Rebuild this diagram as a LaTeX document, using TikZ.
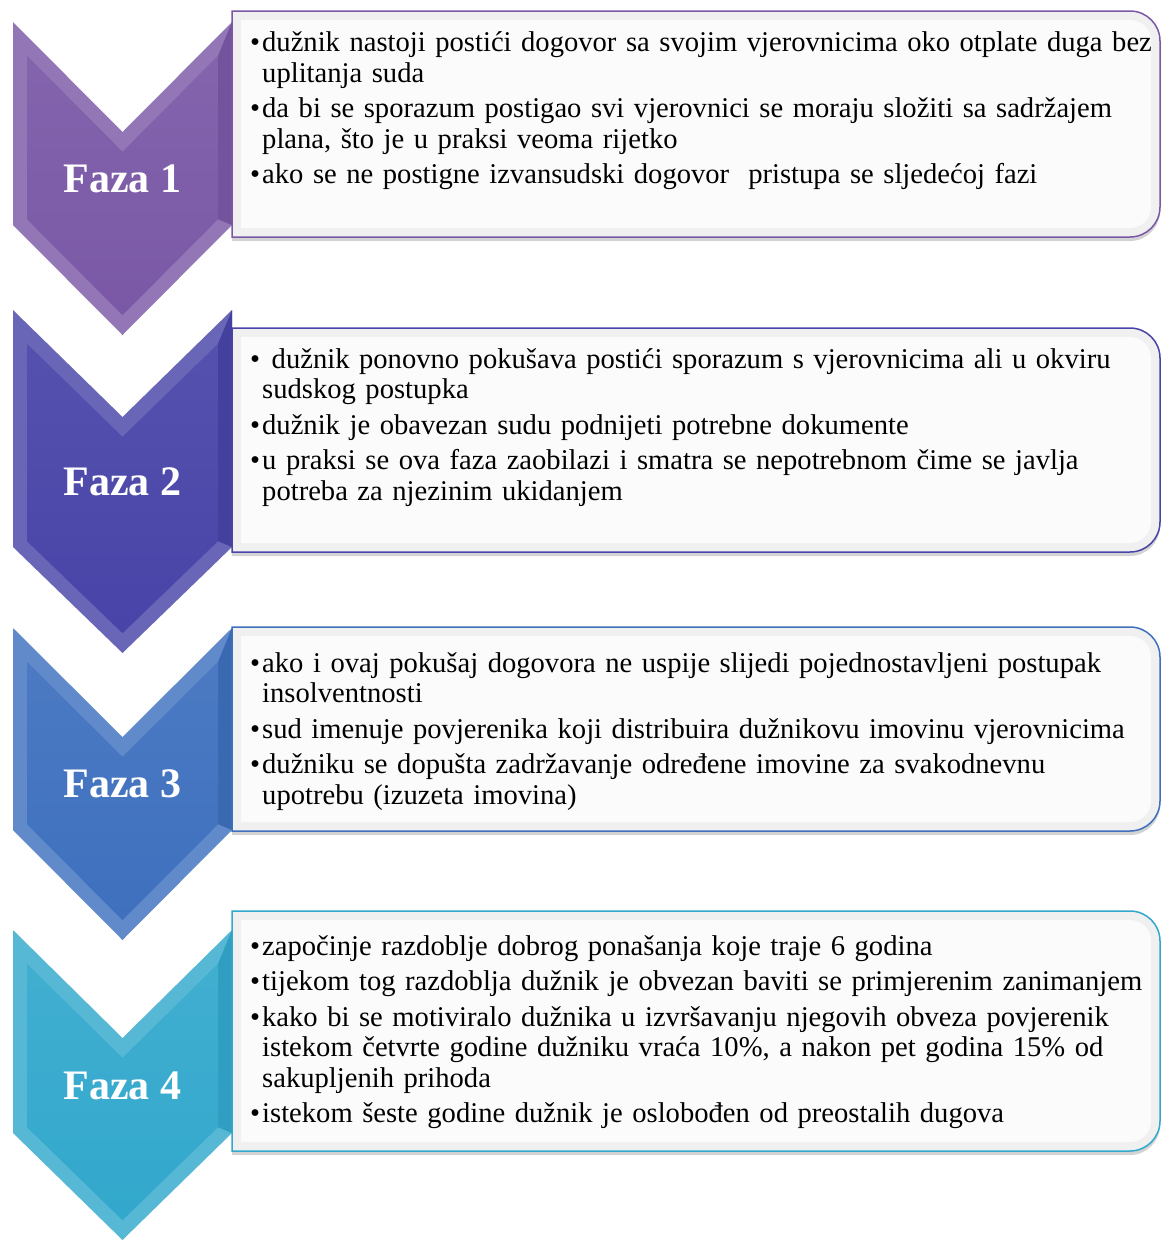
\documentclass[tikz,border=0pt]{standalone}
\usepackage{fontspec}
\setmainfont{Liberation Serif}
\usetikzlibrary{shadows}

\definecolor{faza1}{RGB}{122,88,166}
\definecolor{faza2}{RGB}{72,68,168}
\definecolor{faza3}{RGB}{62,112,190}
\definecolor{faza4}{RGB}{50,168,204}

\newcommand{\stavka}[1]{\par\hangindent=12pt\hangafter=1\noindent\strut\makebox[12pt][l]{\textbullet}#1\par}

\begin{document}
\begin{tikzpicture}[x=1pt, y=1pt,
    tekst/.style={anchor=north west, inner sep=0pt, text width=910pt, align=left,
        font=\fontsize{28.6}{30.5}\selectfont\setlength{\parskip}{5pt}},
    naslov/.style={text=white, inner sep=0pt, font=\fontsize{42}{48}\selectfont\bfseries},
    okvir/.style={line width=1.5pt, fill=black!6,
        drop shadow={opacity=0.35, shadow xshift=0pt, shadow yshift=-4pt}}]
    \useasboundingbox (0,0) rectangle (1161,-1240);

    % Chevrons
    \foreach \i/\t/\n/\s/\p in {1/22/132/225/335, 2/310/417/547/653, 3/628/737/830/940, 4/930/1038/1133/1240} {
        \pgfmathsetmacro\ta{-(\t+33.8)}
        \pgfmathsetmacro\na{-(\n+19.8)}
        \pgfmathsetmacro\sa{-(\s-5.8)}
        \pgfmathsetmacro\pa{-(\p-19.8)}
        \fill[faza\i!82!white] (13,-\t) -- (122.5,-\n) -- (232,-\t) -- (232,-\s) -- (122.5,-\p) -- (13,-\s) -- cycle;
        \fill[faza\i!94!black] (232,-\t) -- (232,-\s) -- (218,\sa) -- (218,\ta) -- cycle;
        \shade[top color=faza\i!93!white, bottom color=faza\i] (27,\ta) -- (122.5,\na) -- (218,\ta) -- (218,\sa) -- (122.5,\pa) -- (27,\sa) -- cycle;
        \node[naslov] (oznaka\i) at (122.5,{-(\n+\s)/2}) {Faza \i};
    }

    % Boxes
    \foreach \i/\g/\d in {1/11/237, 2/328/552, 3/627/831, 4/911/1151} {
        \filldraw[okvir, draw=faza\i] (232,-\g) -- (1130,-\g) arc[start angle=90, end angle=0, radius=30]
            -- (1160,{-\d+30}) arc[start angle=0, end angle=-90, radius=30] -- (232,-\d) -- cycle;
        \fill[black!1.5] (241,{-\g-9}) -- (1130,{-\g-9}) arc[start angle=90, end angle=0, radius=21]
            -- (1151,{-\d+30}) arc[start angle=0, end angle=-90, radius=21] -- (241,{-\d+9}) -- cycle;
    }

    % Text
    \node[tekst] (tekst1) at (250,-16) {%
        \stavka{dužnik nastoji postići dogovor sa svojim vjerovnicima oko otplate duga bez\newline uplitanja suda}
        \stavka{da bi se sporazum postigao svi vjerovnici se moraju složiti sa sadržajem\newline plana, što je u praksi veoma rijetko}
        \stavka{ako se ne postigne izvansudski dogovor\ \ pristupa se sljedećoj fazi}};
    \node[tekst] (tekst2) at (250,-332.5) {%
        \stavka{\ dužnik ponovno pokušava postići sporazum s vjerovnicima ali u okviru\newline sudskog postupka}
        \stavka{dužnik je obavezan sudu podnijeti potrebne dokumente}
        \stavka{u praksi se ova faza zaobilazi i smatra se nepotrebnom čime se javlja\newline potreba za njezinim ukidanjem}};
    \node[tekst] (tekst3) at (250,-636.5) {%
        \stavka{ako i ovaj pokušaj dogovora ne uspije slijedi pojednostavljeni postupak\newline insolventnosti}
        \stavka{sud imenuje povjerenika koji distribuira dužnikovu imovinu vjerovnicima}
        \stavka{dužniku se dopušta zadržavanje određene imovine za svakodnevnu\newline upotrebu (izuzeta imovina)}};
    \node[tekst] (tekst4) at (250,-919.5) {%
        \stavka{započinje razdoblje dobrog ponašanja koje traje 6 godina}
        \stavka{tijekom tog razdoblja dužnik je obvezan baviti se primjerenim zanimanjem}
        \stavka{kako bi se motiviralo dužnika u izvršavanju njegovih obveza povjerenik\newline istekom četvrte godine dužniku vraća 10\%, a nakon pet godina 15\% od\newline sakupljenih prihoda}
        \stavka{istekom šeste godine dužnik je oslobođen od preostalih dugova}};
\end{tikzpicture}
\end{document}
